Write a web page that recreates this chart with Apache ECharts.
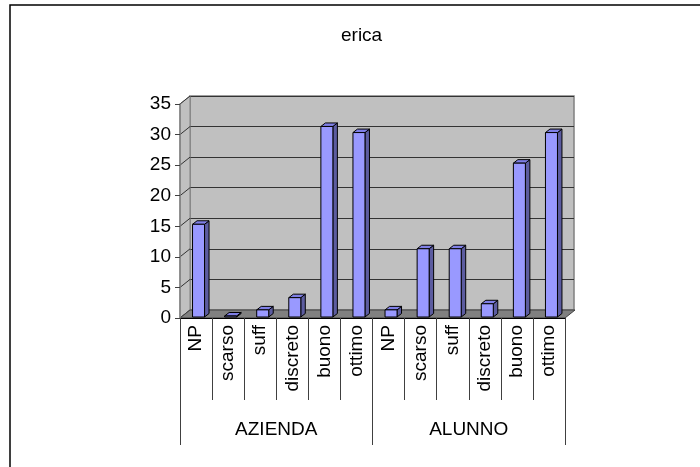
<!DOCTYPE html>
<html>
<head>
<meta charset="utf-8">
<script src="https://cdn.jsdelivr.net/npm/echarts@6/dist/echarts.min.js"></script>
<style>html,body{margin:0;padding:0;background:#fff}#c{width:700px;height:467px}</style>
</head>
<body>
<div id="c"></div>
<script>
var titleText = 'erica';
var groups = ['AZIENDA', 'ALUNNO'];
var levels = ['NP', 'scarso', 'suff', 'discreto', 'buono', 'ottimo'];
var aziendaValues = [15, 0, 1, 3, 31, 30];
var alunnoValues = [1, 11, 11, 2, 25, 30];
var yTicks = [0, 5, 10, 15, 20, 25, 30, 35];

var categories = levels.concat(levels);
var allValues = aziendaValues.concat(alunnoValues);
var barData = allValues.map(function (v, i) { return [i, v]; });

var FONT = 'Liberation Sans, Arial, sans-serif';
var DX = 10, DY = -8;

var chart = echarts.init(document.getElementById('c'));

function wallItem(params, api) {
  var cs = params.coordSys;
  var yf = function (v) { return api.coord([0, v])[1]; };
  var x0 = cs.x, y0 = yf(0), yTop = yf(yTicks[yTicks.length - 1]);
  var children = [];
  children.push({
    type: 'polygon',
    shape: { points: [[x0, yTop], [x0 + DX, yTop + DY], [x0 + DX, y0 + DY], [x0, y0]] },
    style: { fill: '#c0c0c0', stroke: '#808080', lineWidth: 1 }
  });
  yTicks.forEach(function (t) {
    var y = yf(t);
    children.push({
      type: 'line',
      shape: { x1: x0, y1: y, x2: x0 + DX, y2: y + DY },
      style: { stroke: '#333', lineWidth: 1 }
    });
  });
  children.push({
    type: 'polygon',
    shape: { points: [[x0, y0], [x0 + DX, y0 + DY], [x0 + cs.width + DX, y0 + DY], [x0 + cs.width, y0]] },
    style: { fill: '#808080', stroke: '#404040', lineWidth: 1 }
  });
  return { type: 'group', children: children };
}

function barItem(params, api) {
  var i = api.value(0), v = api.value(1);
  var pb = api.coord([i, 0]);
  var pt = api.coord([i, v]);
  var w = 12, sx = 2.5, ddx = 4.5, ddy = -3.5;
  var x1 = pb[0] + sx - w / 2, x2 = x1 + w;
  var yb = pb[1] - 1, yt = Math.min(pt[1] - 2, yb);
  var st = { stroke: '#000', lineWidth: 1, lineJoin: 'round' };
  return {
    type: 'group',
    children: [
      { type: 'polygon', shape: { points: [[x2, yt], [x2 + ddx, yt + ddy], [x2 + ddx, yb + ddy], [x2, yb]] },
        style: Object.assign({ fill: '#5c5ca0' }, st) },
      { type: 'polygon', shape: { points: [[x1, yt], [x1 + ddx, yt + ddy], [x2 + ddx, yt + ddy], [x2, yt]] },
        style: Object.assign({ fill: '#7f7fe6' }, st) },
      { type: 'rect', shape: { x: x1, y: yt, width: w, height: yb - yt },
        style: Object.assign({ fill: '#9999ff' }, st) }
    ]
  };
}

chart.setOption({
  animation: false,
  backgroundColor: '#fff',
  title: {
    text: titleText, left: 336, top: 21,
    textStyle: { fontFamily: FONT, fontSize: 19, fontWeight: 'normal', color: '#000' }
  },
  graphic: [{
    type: 'rect', shape: { x: 10, y: 5, width: 720, height: 500 },
    style: { fill: 'none', stroke: '#000', lineWidth: 1.5 }, z: 100
  }],
  grid: [
    { left: 180, right: 135, top: 104, bottom: 149, containLabel: false },
    { left: 190, right: 126, top: 96, bottom: 157, show: true, backgroundColor: '#c0c0c0', borderColor: '#808080', borderWidth: 1.5 }
  ],
  xAxis: [
    {
      type: 'category', gridIndex: 0, data: categories, position: 'bottom', z: 10,
      axisLine: { show: true, lineStyle: { color: '#000', width: 1 } },
      axisTick: { show: true, interval: 0, length: 82, lineStyle: { color: '#404040' } },
      axisLabel: { interval: 0, rotate: 90, margin: 7, fontFamily: FONT, fontSize: 19, color: '#000' },
      splitLine: { show: false }
    },
    {
      type: 'category', gridIndex: 0, data: groups, position: 'bottom', z: 10,
      axisLine: { show: false },
      axisTick: { show: true, interval: 0, length: 127, lineStyle: { color: '#404040' } },
      axisLabel: { interval: 0, margin: 102, fontFamily: FONT, fontSize: 19, color: '#000' },
      splitLine: { show: false }
    },
    {
      type: 'category', gridIndex: 1, data: categories, show: false
    }
  ],
  yAxis: [
    {
      type: 'value', gridIndex: 0, min: 0, max: 35, interval: 5, z: 10,
      axisLine: { show: true, lineStyle: { color: '#808080', width: 1.5 } },
      axisTick: { show: true, length: 5, lineStyle: { color: '#404040' } },
      axisLabel: { margin: 9, fontFamily: FONT, fontSize: 19, color: '#000' },
      splitLine: { show: false }
    },
    {
      type: 'value', gridIndex: 1, min: 0, max: 35, interval: 5,
      axisLine: { show: false }, axisTick: { show: false }, axisLabel: { show: false },
      splitLine: { show: true, lineStyle: { color: '#333', width: 1 } }
    }
  ],
  series: [
    { type: 'custom', xAxisIndex: 2, yAxisIndex: 1, data: [], renderItem: function () { return null; } },
    { type: 'custom', xAxisIndex: 0, yAxisIndex: 0, z: 3, data: [[0, 0]], renderItem: wallItem, silent: true },
    { type: 'custom', xAxisIndex: 0, yAxisIndex: 0, z: 5, data: barData, renderItem: barItem }
  ]
});
</script>
</body>
</html>
